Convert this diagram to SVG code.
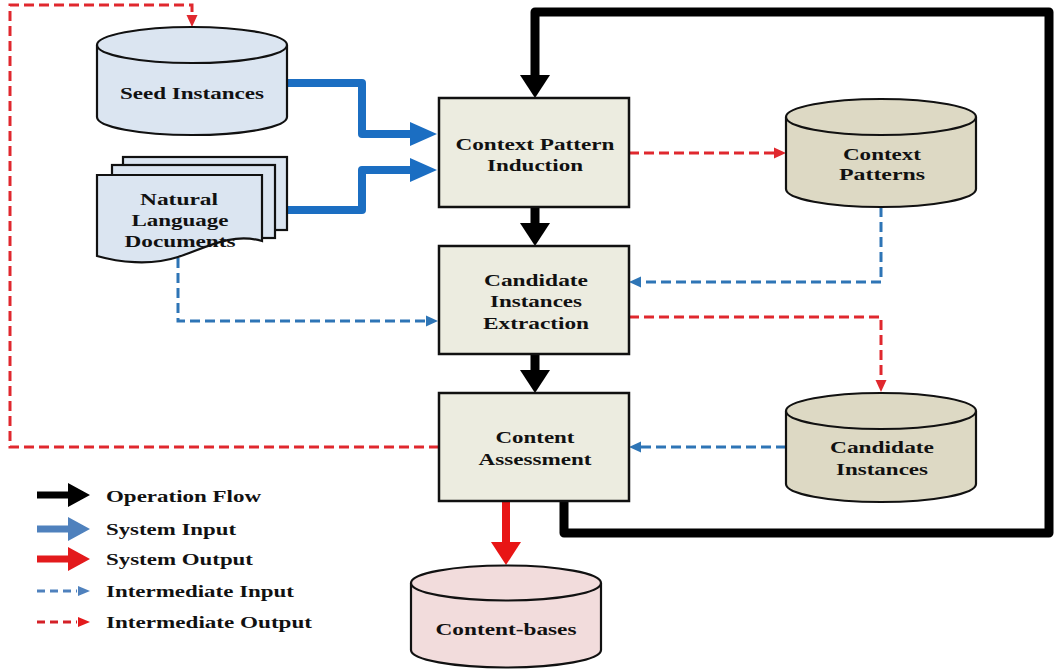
<svg xmlns="http://www.w3.org/2000/svg" width="1054" height="669" viewBox="0 0 1054 669">
<style>
text{font-family:"Liberation Serif","Times New Roman",serif;font-weight:bold;font-size:16px;fill:#111;}
.c{text-anchor:middle;}
.shape{stroke:#111;stroke-width:2.2;}
.blueDB{fill:#dbe5f1;}
.tanDB{fill:#ddd9c4;}
.pinkDB{fill:#f2dcdc;}
.box{fill:#ecece0;stroke:#111;stroke-width:2.5;}
.thickBlue{fill:none;stroke:#1b6ec2;stroke-width:8;stroke-linejoin:round;}
.thickBlack{fill:none;stroke:#000;stroke-width:9;stroke-linejoin:round;}
.thickRed{fill:none;stroke:#e81515;stroke-width:8;}
.dashRed{fill:none;stroke:#e0282e;stroke-width:3;stroke-dasharray:10 5;}
.dashBlue{fill:none;stroke:#2e75b6;stroke-width:3;stroke-dasharray:10 5;}
</style>
<defs>
<marker id="hBlue" markerUnits="userSpaceOnUse" markerWidth="28" markerHeight="24" refX="0" refY="12" orient="auto" overflow="visible"><path d="M0,0 L27,12 L0,24 Z" fill="#1b6ec2"/></marker>
<marker id="hBlack" markerUnits="userSpaceOnUse" markerWidth="24" markerHeight="30" refX="0" refY="15" orient="auto" overflow="visible"><path d="M0,0 L23,15 L0,30 Z" fill="#000"/></marker>
<marker id="hRed" markerUnits="userSpaceOnUse" markerWidth="24" markerHeight="30" refX="0" refY="15" orient="auto" overflow="visible"><path d="M0,0 L23,15 L0,30 Z" fill="#e81515"/></marker>
<marker id="dRed" markerUnits="userSpaceOnUse" markerWidth="13" markerHeight="11" refX="0" refY="5.5" orient="auto" overflow="visible"><path d="M0,0 L12,5.5 L0,11 Z" fill="#e0282e"/></marker>
<marker id="dBlue" markerUnits="userSpaceOnUse" markerWidth="13" markerHeight="11" refX="0" refY="5.5" orient="auto" overflow="visible"><path d="M0,0 L12,5.5 L0,11 Z" fill="#2e75b6"/></marker>
</defs>
<rect width="1054" height="669" fill="#fff"/>

<g id="connectors">
<path class="dashRed" d="M439,447 H10 V5 H192 V15" marker-end="url(#dRed)"/>
<path class="dashRed" d="M629,153 H774" marker-end="url(#dRed)"/>
<path class="dashRed" d="M629,317 H881 V380" marker-end="url(#dRed)"/>
<path class="dashBlue" d="M881,207 V282 H641" marker-end="url(#dBlue)"/>
<path class="dashBlue" d="M178,258 V321 H426" marker-end="url(#dBlue)"/>
<path class="dashBlue" d="M786,447 H641" marker-end="url(#dBlue)"/>
<path class="thickBlue" d="M287,83 H362 V134 H410" marker-end="url(#hBlue)"/>
<path class="thickBlue" d="M287,210 H362 V170 H410" marker-end="url(#hBlue)"/>
<path class="thickBlack" d="M564,501 V533 H1049 V12 H535 V75" marker-end="url(#hBlack)"/>
<path class="thickBlack" d="M535,207 V223" marker-end="url(#hBlack)"/>
<path class="thickBlack" d="M535,354 V370" marker-end="url(#hBlack)"/>
<path class="thickRed" d="M506,501 V542" marker-end="url(#hRed)"/>
</g>

<g id="seed-instances">
<path class="shape blueDB" d="M97,45 V117 A95,18 0 0 0 287,117 V45"/>
<ellipse class="shape blueDB" cx="192" cy="45" rx="95" ry="18"/>
<text class="c" x="192" y="99" textLength="144" lengthAdjust="spacingAndGlyphs">Seed Instances</text>
</g>

<g id="natural-language-documents">
<rect class="shape blueDB" x="123" y="157" width="164" height="73"/>
<rect class="shape blueDB" x="112" y="165" width="163" height="73"/>
<path class="shape blueDB" d="M97,175 H262 V241 C232,232 205,248 178,257 C150,266 118,262 97,256 Z"/>
<text class="c" x="179" y="205" textLength="78" lengthAdjust="spacingAndGlyphs">Natural</text>
<text class="c" x="180" y="226" textLength="97" lengthAdjust="spacingAndGlyphs">Language</text>
<text class="c" x="180" y="247" textLength="111" lengthAdjust="spacingAndGlyphs">Documents</text>
</g>

<g id="context-pattern-induction">
<rect class="box" x="439" y="98" width="190" height="109"/>
<text class="c" x="535" y="150" textLength="159" lengthAdjust="spacingAndGlyphs">Context Pattern</text>
<text class="c" x="535" y="171" textLength="96" lengthAdjust="spacingAndGlyphs">Induction</text>
</g>

<g id="candidate-instances-extraction">
<rect class="box" x="439" y="246" width="190" height="108"/>
<text class="c" x="536" y="286" textLength="104" lengthAdjust="spacingAndGlyphs">Candidate</text>
<text class="c" x="536" y="307" textLength="92" lengthAdjust="spacingAndGlyphs">Instances</text>
<text class="c" x="536" y="329" textLength="106" lengthAdjust="spacingAndGlyphs">Extraction</text>
</g>

<g id="content-assessment">
<rect class="box" x="439" y="393" width="190" height="108"/>
<text class="c" x="535" y="443" textLength="79" lengthAdjust="spacingAndGlyphs">Content</text>
<text class="c" x="535" y="465" textLength="113" lengthAdjust="spacingAndGlyphs">Assessment</text>
</g>

<g id="context-patterns">
<path class="shape tanDB" d="M786,117 V189 A95,18 0 0 0 976,189 V117"/>
<ellipse class="shape tanDB" cx="881" cy="117" rx="95" ry="18"/>
<text class="c" x="882" y="160" textLength="78" lengthAdjust="spacingAndGlyphs">Context</text>
<text class="c" x="882" y="180" textLength="86" lengthAdjust="spacingAndGlyphs">Patterns</text>
</g>

<g id="candidate-instances">
<path class="shape tanDB" d="M786,411 V484 A95,18 0 0 0 976,484 V411"/>
<ellipse class="shape tanDB" cx="881" cy="411" rx="95" ry="18"/>
<text class="c" x="882" y="453" textLength="104" lengthAdjust="spacingAndGlyphs">Candidate</text>
<text class="c" x="882" y="475" textLength="92" lengthAdjust="spacingAndGlyphs">Instances</text>
</g>

<g id="content-bases">
<path class="shape pinkDB" d="M411,583 V650 A95,17.5 0 0 0 601,650 V583"/>
<ellipse class="shape pinkDB" cx="506" cy="583" rx="95" ry="17.5"/>
<text class="c" x="506" y="635" textLength="141" lengthAdjust="spacingAndGlyphs">Content-bases</text>
</g>

<g id="legend">
<path d="M37,491.5 H68 V483 L90,495 L68,507 V498.5 H37 Z" fill="#000"/>
<path d="M37,525.5 H68 V517 L90,529 L68,541 V532.5 H37 Z" fill="#4f81bd"/>
<path d="M37,555.5 H68 V547 L90,559 L68,571 V562.5 H37 Z" fill="#e31a1c"/>
<path d="M37,591 H77" stroke="#4f81bd" stroke-width="3" stroke-dasharray="8 5" fill="none"/>
<path d="M78,586 L90,591 L78,596 Z" fill="#4f81bd"/>
<path d="M37,622 H77" stroke="#d42027" stroke-width="3" stroke-dasharray="8 5" fill="none"/>
<path d="M78,617 L90,622 L78,627 Z" fill="#e31a1c"/>
<text x="106" y="502" textLength="155" lengthAdjust="spacingAndGlyphs">Operation Flow</text>
<text x="106" y="535" textLength="130" lengthAdjust="spacingAndGlyphs">System Input</text>
<text x="106" y="565" textLength="147" lengthAdjust="spacingAndGlyphs">System Output</text>
<text x="106" y="597" textLength="188" lengthAdjust="spacingAndGlyphs">Intermediate Input</text>
<text x="106" y="628" textLength="206" lengthAdjust="spacingAndGlyphs">Intermediate Output</text>
</g>
</svg>
